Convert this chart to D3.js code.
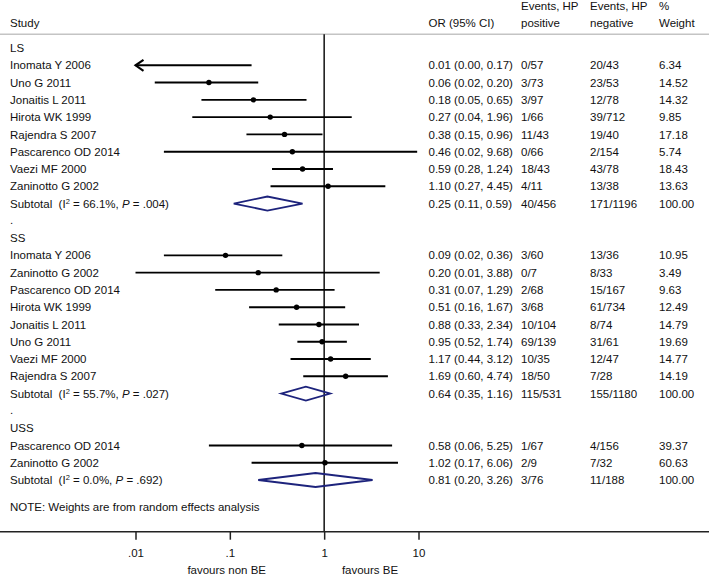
<!DOCTYPE html>
<html>
<head>
<meta charset="utf-8">
<script src="https://cdn.jsdelivr.net/npm/d3@7"></script>
<style>
  html, body { margin: 0; padding: 0; background: #fff; }
  svg { display: block; }
  text { font-family: "Liberation Sans", Arial, sans-serif; font-size: 11.5px; fill: #111; }
</style>
</head>
<body>
<svg id="chart" width="709" height="576"></svg>
<script>
// ---------------- DATA ----------------
const groups = ["LS", "SS", "USS"];

const studyGroup = ["LS","LS","LS","LS","LS","LS","LS","LS",
                    "SS","SS","SS","SS","SS","SS","SS","SS",
                    "USS","USS"];
const studyNames = ["Inomata Y 2006","Uno G 2011","Jonaitis L 2011","Hirota WK 1999","Rajendra S 2007","Pascarenco OD 2014","Vaezi MF 2000","Zaninotto G 2002",
                    "Inomata Y 2006","Zaninotto G 2002","Pascarenco OD 2014","Hirota WK 1999","Jonaitis L 2011","Uno G 2011","Vaezi MF 2000","Rajendra S 2007",
                    "Pascarenco OD 2014","Zaninotto G 2002"];
const orVals  = [0.008, 0.06, 0.178, 0.268, 0.38, 0.46, 0.59, 1.10,
                 0.09, 0.20, 0.31, 0.51, 0.88, 0.95, 1.17, 1.69,
                 0.58, 1.02];
const loVals  = [0.002, 0.016, 0.05, 0.04, 0.15, 0.02, 0.28, 0.27,
                 0.02, 0.01, 0.07, 0.16, 0.33, 0.52, 0.44, 0.60,
                 0.06, 0.17];
const hiVals  = [0.17, 0.20, 0.65, 1.96, 0.96, 9.68, 1.24, 4.45,
                 0.36, 3.88, 1.29, 1.67, 2.34, 1.74, 3.12, 4.74,
                 5.25, 6.06];
const eventsPos = ["0/57","3/73","3/97","1/66","11/43","0/66","18/43","4/11",
                   "3/60","0/7","2/68","3/68","10/104","69/139","10/35","18/50",
                   "1/67","2/9"];
const eventsNeg = ["20/43","23/53","12/78","39/712","19/40","2/154","43/78","13/38",
                   "13/36","8/33","15/167","61/734","8/74","31/61","12/47","7/28",
                   "4/156","7/32"];
const weights = ["6.34","14.52","14.32","9.85","17.18","5.74","18.43","13.63",
                 "10.95","3.49","9.63","12.49","14.79","19.69","14.77","14.19",
                 "39.37","60.63"];

const subOR  = [0.25, 0.64, 0.81];
const subLo  = [0.11, 0.35, 0.20];
const subHi  = [0.59, 1.16, 3.26];
const subI2  = ["66.1%", "55.7%", "0.0%"];
const subP   = [".004", ".027", ".692"];
const subPos = ["40/456", "115/531", "3/76"];
const subNeg = ["171/1196", "155/1180", "11/188"];

const tickValues = [0.01, 0.1, 1, 10];
const tickLabels = [".01", ".1", "1", "10"];
const headers = { study: "Study", or: "OR (95% CI)", pos: ["Events, HP", "positive"], neg: ["Events, HP", "negative"], w: ["%", "Weight"] };
const noteText = "NOTE: Weights are from random effects analysis";
const favourLeft = "favours non BE", favourRight = "favours BE";

// ---------------- LAYOUT ----------------
const svg = d3.select("#chart");
const W = 709;
const x = d3.scaleLog().domain([0.01, 10]).range([135.5, 418.5]);
const nRows = 26;
const y = d3.scaleLinear().domain([0, nRows - 1]).range([48, 48 + (nRows - 1) * 17.28]);
const axisY = 531.7;
const colOR = 428.5, colPos = 521, colNeg = 590, colW = 659;
const navy = "#1d237c";
const base = 4.1; // offset from visual center to baseline

// Build rows
const rows = [];
let r = 0;
groups.forEach((g, gi) => {
  rows.push({ type: "group", label: g, i: r++ });
  studyNames.forEach((n, si) => {
    if (studyGroup[si] === g) rows.push({ type: "study", si, i: r++ });
  });
  rows.push({ type: "sub", gi, i: r++ });
  if (gi < groups.length - 1) rows.push({ type: "dot", i: r++ });
});

const fmt = v => v.toFixed(2);

// header line
svg.append("line").attr("x1", 0).attr("x2", W).attr("y1", 34.3).attr("y2", 34.3)
  .attr("stroke", "#c4c4c4").attr("stroke-width", 1.6);

// header text
svg.append("text").attr("x", 10).attr("y", 22.7 + base).text(headers.study);
svg.append("text").attr("x", colOR).attr("y", 22.7 + base).text(headers.or);
[[colPos, headers.pos], [colNeg, headers.neg], [colW, headers.w]].forEach(([cx, lines]) => {
  svg.append("text").attr("x", cx).attr("y", 6 + base).text(lines[0]);
  svg.append("text").attr("x", cx).attr("y", 22.7 + base).text(lines[1]);
});

// null line
svg.append("line").attr("x1", x(1)).attr("x2", x(1)).attr("y1", 34.3).attr("y2", axisY)
  .attr("stroke", "#111").attr("stroke-width", 1.5);

// rows
rows.forEach(row => {
  const cy = y(row.i);
  if (row.type === "group") {
    svg.append("text").attr("x", 10).attr("y", cy + base).text(row.label);
  } else if (row.type === "dot") {
    svg.append("text").attr("x", 10).attr("y", cy + 3).text(".");
  } else if (row.type === "study") {
    const s = row.si;
    svg.append("text").attr("x", 10).attr("y", cy + base).text(studyNames[s]);
    const lo = Math.max(loVals[s], x.domain()[0]);
    const hi = Math.min(hiVals[s], x.domain()[1]);
    svg.append("line").attr("x1", x(lo)).attr("x2", x(hi)).attr("y1", cy).attr("y2", cy)
      .attr("stroke", "#000").attr("stroke-width", 1.9);
    if (loVals[s] < x.domain()[0]) {
      const ax = x(lo);
      svg.append("path").attr("d", `M${ax + 8},${cy - 5.5} L${ax},${cy} L${ax + 8},${cy + 5.5}`)
        .attr("fill", "none").attr("stroke", "#000").attr("stroke-width", 2.1);
    }
    if (orVals[s] >= x.domain()[0]) {
      svg.append("circle").attr("cx", x(orVals[s])).attr("cy", cy).attr("r", 2.7).attr("fill", "#000");
    }
    svg.append("text").attr("x", colOR).attr("y", cy + base)
      .text(`${fmt(orVals[s])} (${fmt(loVals[s])}, ${fmt(hiVals[s])})`);
    svg.append("text").attr("x", colPos).attr("y", cy + base).text(eventsPos[s]);
    svg.append("text").attr("x", colNeg).attr("y", cy + base).text(eventsNeg[s]);
    svg.append("text").attr("x", colW).attr("y", cy + base).text(weights[s]);
  } else if (row.type === "sub") {
    const g = row.gi;
    const t = svg.append("text").attr("x", 10).attr("y", cy + base).attr("xml:space", "preserve")
      .style("white-space", "pre");
    t.append("tspan").text("Subtotal  (I");
    t.append("tspan").attr("dy", -4).style("font-size", "7.5px").text("2");
    t.append("tspan").attr("dy", 4).text(` = ${subI2[g]}, `);
    t.append("tspan").style("font-style", "italic").text("P");
    t.append("tspan").text(` = ${subP[g]})`);
    const dh = 7;
    svg.append("path")
      .attr("d", `M${x(subLo[g])},${cy} L${x(subOR[g])},${cy - dh} L${x(subHi[g])},${cy} L${x(subOR[g])},${cy + dh} Z`)
      .attr("fill", "none").attr("stroke", navy).attr("stroke-width", 1.8).attr("stroke-linejoin", "miter");
    svg.append("text").attr("x", colOR).attr("y", cy + base)
      .text(`${fmt(subOR[g])} (${fmt(subLo[g])}, ${fmt(subHi[g])})`);
    svg.append("text").attr("x", colPos).attr("y", cy + base).text(subPos[g]);
    svg.append("text").attr("x", colNeg).attr("y", cy + base).text(subNeg[g]);
    svg.append("text").attr("x", colW).attr("y", cy + base).text("100.00");
  }
});

// note
svg.append("text").attr("x", 10).attr("y", 506.7 + base).text(noteText);

// axis
svg.append("line").attr("x1", 0).attr("x2", W).attr("y1", axisY).attr("y2", axisY)
  .attr("stroke", "#222").attr("stroke-width", 1.5);
const axis = d3.axisBottom(x).tickValues(tickValues)
  .tickFormat((d, i) => tickLabels[i]).tickSize(8).tickPadding(9);
const ag = svg.append("g").attr("transform", `translate(0,${axisY})`).call(axis);
ag.select(".domain").remove();
ag.selectAll(".tick line").attr("stroke", "#222").attr("stroke-width", 1.5);
ag.selectAll(".tick text").attr("fill", "#111")
  .style("font-family", '"Liberation Sans", Arial, sans-serif').style("font-size", "11.5px");

// favours labels
svg.append("text").attr("x", 226.7).attr("y", 570 + base).attr("text-anchor", "middle").text(favourLeft);
svg.append("text").attr("x", 370).attr("y", 570 + base).attr("text-anchor", "middle").text(favourRight);
</script>
</body>
</html>
